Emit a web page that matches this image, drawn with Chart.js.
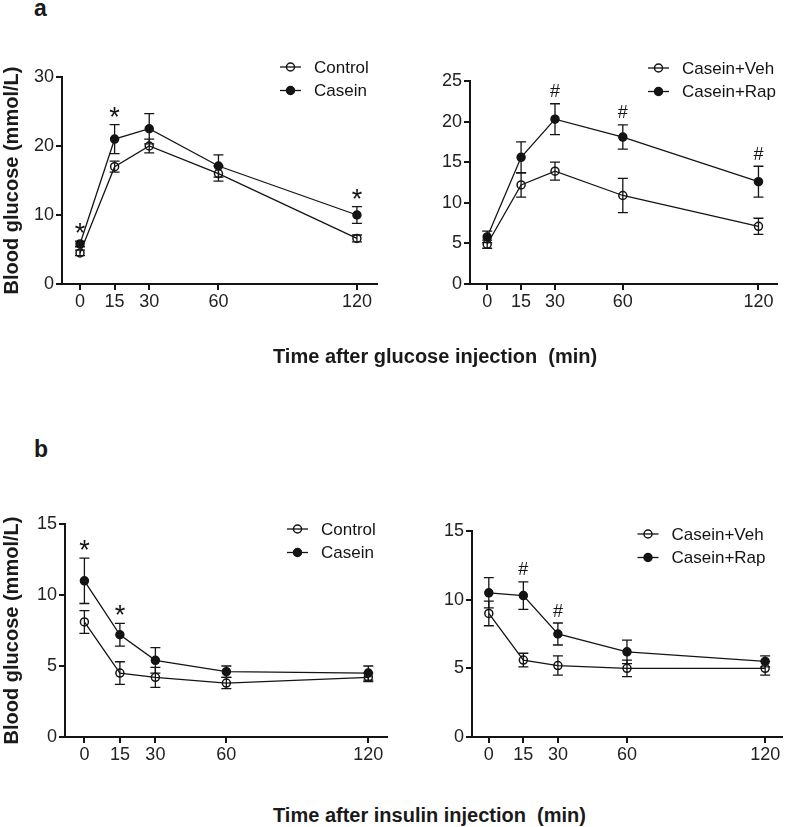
<!DOCTYPE html>
<html>
<head>
<meta charset="utf-8">
<script src="https://cdn.jsdelivr.net/npm/chart.js@4.4.1/dist/chart.umd.min.js"></script>
<style>
  body { margin: 0; background: #fff; }
  #fig { position: relative; width: 787px; height: 827px; background: #fff; font-family: "Liberation Sans", Arial, sans-serif; color: #1a1a1a; overflow: hidden; }
  #fig canvas { position: absolute; }
  .lbl { position: absolute; line-height: 1; white-space: pre; font-weight: bold; }
</style>
</head>
<body>
<div id="fig">
  <canvas id="gttLeft" width="395" height="320" style="left:0;top:30px"></canvas>
  <canvas id="gttRight" width="392" height="320" style="left:395px;top:30px"></canvas>
  <canvas id="ittLeft" width="395" height="300" style="left:0;top:480px"></canvas>
  <canvas id="ittRight" width="392" height="300" style="left:395px;top:480px"></canvas>
  <div class="lbl" style="left:34px;top:-3px;font-size:23px">a</div>
  <div class="lbl" style="left:34px;top:438px;font-size:23px">b</div>
  <div class="lbl" style="left:273px;top:346px;font-size:20px">Time after glucose injection  (min)</div>
  <div class="lbl" style="left:273px;top:805px;font-size:20px">Time after insulin injection  (min)</div>
</div>
<script>
const INK = "#141414";
const FONT = "'Liberation Sans', Arial, sans-serif";

// sampling times (min)
const times = [0, 15, 30, 60, 120];

// a: glucose tolerance, mean and SEM (mmol/L)
const gttControl    = [4.5, 17.0, 20.0, 16.0, 6.6];
const gttControlErr = [0.4, 0.8, 1.0, 1.1, 0.5];
const gttCasein     = [5.8, 21.0, 22.5, 17.1, 10.0];
const gttCaseinErr  = [0.4, 2.1, 2.2, 1.6, 1.2];
const gttVeh        = [4.9, 12.2, 13.9, 10.9, 7.1];
const gttVehErr     = [0.5, 1.5, 1.1, 2.1, 1.0];
const gttRap        = [5.8, 15.6, 20.3, 18.1, 12.6];
const gttRapErr     = [0.7, 1.9, 1.9, 1.5, 1.9];

// b: insulin tolerance, mean and SEM (mmol/L)
const ittControl    = [8.1, 4.5, 4.2, 3.8, 4.2];
const ittControlErr = [0.8, 0.8, 0.7, 0.4, 0.3];
const ittCasein     = [11.0, 7.2, 5.4, 4.6, 4.5];
const ittCaseinErr  = [1.6, 0.8, 0.9, 0.4, 0.5];
const ittVeh        = [9.0, 5.6, 5.2, 5.0, 5.0];
const ittVehErr     = [0.9, 0.5, 0.7, 0.6, 0.5];
const ittRap        = [10.5, 10.3, 7.5, 6.2, 5.5];
const ittRapErr     = [1.1, 1.0, 0.8, 0.85, 0.4];

// significance marks per time point
const gttMarksLeft  = ["*", "*", "", "", "*"];
const gttMarksRight = ["", "", "#", "#", "#"];
const ittMarksLeft  = ["*", "*", "", "", ""];
const ittMarksRight = ["", "#", "#", "", ""];

// error bars, significance marks and the legend
const panelExtras = {
    id: "panelExtras",
    afterDatasetsDraw(chart, args, opts) {
        const { ctx, chartArea: area, scales: { x, y } } = chart;
        const sets = chart.data.datasets;
        ctx.save();
        ctx.strokeStyle = INK;
        ctx.fillStyle = INK;
        ctx.lineWidth = 1.3;

        sets.forEach(ds => {
            ds.data.forEach((p, i) => {
                const e = ds.errors[i];
                const px = x.getPixelForValue(p.x);
                const top = y.getPixelForValue(p.y + e);
                const bot = y.getPixelForValue(p.y - e);
                ctx.beginPath();
                ctx.moveTo(px, top); ctx.lineTo(px, bot);
                ctx.moveTo(px - 5, top); ctx.lineTo(px + 5, top);
                ctx.moveTo(px - 5, bot); ctx.lineTo(px + 5, bot);
                ctx.stroke();
            });
        });

        ctx.textAlign = "center";
        ctx.textBaseline = "alphabetic";
        opts.marks.forEach((m, i) => {
            if (!m) return;
            const hi = Math.max(...sets.map(ds => ds.data[i].y + ds.errors[i]));
            const cy = y.getPixelForValue(hi) - 13;
            ctx.font = (m === "*" ? "27px " : "18px ") + FONT;
            const tm = ctx.measureText(m);
            const base = cy + (tm.actualBoundingBoxAscent - tm.actualBoundingBoxDescent) / 2;
            ctx.fillText(m, x.getPixelForValue(times[i]), base);
        });

        // legend
        const lx = area.right + opts.legend.dx;
        ctx.font = "17px " + FONT;
        ctx.textAlign = "left";
        ctx.textBaseline = "middle";
        sets.forEach((ds, d) => {
            const ly = area.top + opts.legend.dy + d * 23.5;
            ctx.beginPath();
            ctx.moveTo(lx, ly); ctx.lineTo(lx + 21, ly);
            ctx.stroke();
            ctx.beginPath();
            ctx.arc(lx + 10.5, ly, 4, 0, Math.PI * 2);
            if (ds.solid) ctx.fill();
            ctx.lineWidth = 1.5;
            ctx.stroke();
            ctx.lineWidth = 1.3;
            ctx.fillText(ds.label, lx + 34, ly + 1);
        });
        ctx.restore();
    }
};

function buildDataset(label, values, errors, solid) {
    return {
        label,
        solid,
        errors,
        data: times.map((t, i) => ({ x: t, y: values[i] })),
        order: solid ? 1 : 2,
        borderColor: INK,
        borderWidth: 1.3,
        tension: 0,
        fill: false,
        pointRadius: 4,
        pointBorderWidth: 1.5,
        pointBorderColor: INK,
        pointBackgroundColor: solid ? INK : "rgba(0,0,0,0)"
    };
}

function makePanel(canvasId, cfg) {
    const tickFont = { size: 18, family: FONT };
    return new Chart(document.getElementById(canvasId), {
        type: "line",
        data: {
            datasets: [
                buildDataset(cfg.names[0], cfg.series[0], cfg.errors[0], false),
                buildDataset(cfg.names[1], cfg.series[1], cfg.errors[1], true)
            ]
        },
        options: {
            responsive: false,
            animation: false,
            devicePixelRatio: 1,
            layout: { padding: { top: cfg.padTop, right: cfg.padRight, left: 0, bottom: 0 } },
            plugins: {
                legend: { display: false },
                tooltip: { enabled: false },
                panelExtras: { marks: cfg.marks, legend: cfg.legend }
            },
            scales: {
                x: {
                    type: "linear",
                    min: cfg.xMin,
                    max: cfg.xMax,
                    afterBuildTicks: s => { s.ticks = times.map(v => ({ value: v })); },
                    afterFit: s => { s.height = cfg.xAxisH; },
                    border: { display: true, color: INK, width: 2 },
                    grid: { drawOnChartArea: false, drawTicks: true, tickLength: 6, color: INK, lineWidth: 2 },
                    ticks: { color: "#222", font: tickFont, padding: 1, maxRotation: 0, autoSkip: false }
                },
                y: {
                    min: 0,
                    max: cfg.yMax,
                    afterFit: s => { s.width = cfg.yAxisW; },
                    border: { display: true, color: INK, width: 2 },
                    grid: { drawOnChartArea: false, drawTicks: true, tickLength: 6, color: INK, lineWidth: 2 },
                    ticks: { stepSize: cfg.yStep, color: "#222", font: tickFont, padding: 2 },
                    title: {
                        display: cfg.yTitle,
                        text: "Blood glucose (mmol/L)",
                        color: "#1a1a1a",
                        padding: 0,
                        font: { size: 20, weight: "bold", family: FONT }
                    }
                }
            }
        },
        plugins: [panelExtras]
    });
}

makePanel("gttLeft", {
    names: ["Control", "Casein"],
    series: [gttControl, gttCasein],
    errors: [gttControlErr, gttCaseinErr],
    marks: gttMarksLeft,
    yMax: 30, yStep: 10, yTitle: true,
    xMin: -7.8, xMax: 128.7,
    yAxisW: 62, xAxisH: 66, padTop: 47, padRight: 18,
    legend: { dx: -97, dy: -10 }
});

makePanel("gttRight", {
    names: ["Casein+Veh", "Casein+Rap"],
    series: [gttVeh, gttRap],
    errors: [gttVehErr, gttRapErr],
    marks: gttMarksRight,
    yMax: 25, yStep: 5, yTitle: false,
    xMin: -7.6, xMax: 128.2,
    yAxisW: 75, xAxisH: 66, padTop: 51, padRight: 10,
    legend: { dx: -129, dy: -13 }
});

makePanel("ittLeft", {
    names: ["Control", "Casein"],
    series: [ittControl, ittCasein],
    errors: [ittControlErr, ittCaseinErr],
    marks: ittMarksLeft,
    yMax: 15, yStep: 5, yTitle: true,
    xMin: -8.2, xMax: 127.9,
    yAxisW: 65, xAxisH: 43, padTop: 44, padRight: 8,
    legend: { dx: -100, dy: 5 }
});

makePanel("ittRight", {
    names: ["Casein+Veh", "Casein+Rap"],
    series: [ittVeh, ittRap],
    errors: [ittVehErr, ittRapErr],
    marks: ittMarksRight,
    yMax: 15, yStep: 5, yTitle: false,
    xMin: -7.3, xMax: 127.1,
    yAxisW: 77, xAxisH: 43, padTop: 51, padRight: 5,
    legend: { dx: -144, dy: 3 }
});
</script>
</body>
</html>
